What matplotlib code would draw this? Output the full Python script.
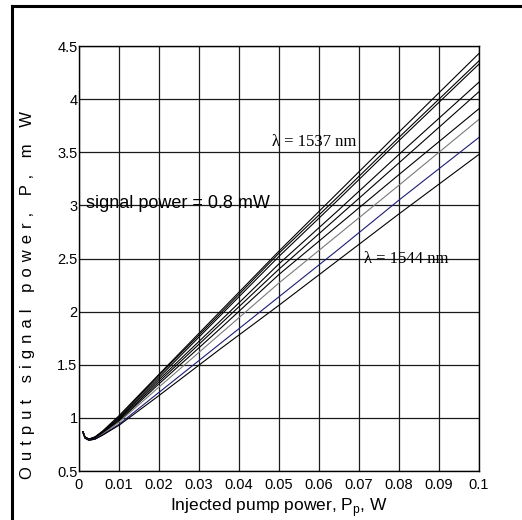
import matplotlib.pyplot as plt
from matplotlib.lines import Line2D

# injected pump power (W) and output signal power (mW) for each signal wavelength
pump_w = [0.001, 0.0015, 0.0025, 0.004, 0.006, 0.01, 0.02, 0.035, 0.05, 0.065, 0.08, 0.1]

p_1537 = [0.87, 0.82, 0.80, 0.82, 0.88, 1.02, 1.41, 1.99, 2.57, 3.13, 3.69, 4.43]
p_1538 = [0.87, 0.82, 0.80, 0.82, 0.87, 1.01, 1.40, 1.97, 2.55, 3.09, 3.64, 4.36]
p_1539 = [0.87, 0.82, 0.80, 0.82, 0.87, 1.00, 1.38, 1.95, 2.52, 3.06, 3.61, 4.33]
p_1540 = [0.87, 0.82, 0.795, 0.81, 0.86, 0.99, 1.36, 1.90, 2.45, 2.96, 3.48, 4.16]
p_1541 = [0.87, 0.82, 0.795, 0.81, 0.86, 0.98, 1.34, 1.87, 2.40, 2.90, 3.40, 4.07]
p_1542 = [0.86, 0.81, 0.79, 0.81, 0.85, 0.97, 1.32, 1.83, 2.35, 2.82, 3.29, 3.91]
p_1543a = [0.86, 0.81, 0.79, 0.80, 0.85, 0.96, 1.29, 1.78, 2.27, 2.73, 3.19, 3.81]
p_1543b = [0.86, 0.81, 0.79, 0.80, 0.84, 0.94, 1.24, 1.69, 2.14, 2.59, 3.05, 3.64]
p_1544 = [0.86, 0.81, 0.79, 0.80, 0.84, 0.93, 1.21, 1.64, 2.06, 2.49, 2.92, 3.48]

curves = [p_1537, p_1538, p_1539, p_1540, p_1541, p_1542, p_1543a, p_1543b, p_1544]
colors = ['k', 'k', 'k', 'k', 'k', 'k', '#7a7a7a', '#1c1c78', 'k']

x_ticks = [0, 0.01, 0.02, 0.03, 0.04, 0.05, 0.06, 0.07, 0.08, 0.09, 0.1]
x_ticklabels = ['0', '0.01', '0.02', '0.03', '0.04', '0.05', '0.06', '0.07', '0.08', '0.09', '0.1']
y_ticks = [0.5, 1, 1.5, 2, 2.5, 3, 3.5, 4, 4.5]
y_ticklabels = ['0.5', '1', '1.5', '2', '2.5', '3', '3.5', '4', '4.5']

narrow = ['Liberation Sans Narrow', 'Liberation Sans', 'DejaVu Sans']
serif = ['Liberation Serif', 'DejaVu Serif']

fig = plt.figure(figsize=(5.22, 5.20), dpi=100)
ax = fig.add_axes([0.1513, 0.0942, 0.7663, 0.8173])

for vals, c in zip(curves, colors):
    ax.plot(pump_w, vals, color=c, lw=0.8)

ax.set_xlim(0, 0.1)
ax.set_ylim(0.5, 4.5)
ax.set_xticks(x_ticks)
ax.set_xticklabels(x_ticklabels, family=narrow, fontsize=10.5)
ax.set_yticks(y_ticks)
ax.set_yticklabels(y_ticklabels, family=narrow, fontsize=10.5)
ax.tick_params(direction='in', length=0, pad=1)
ax.tick_params(axis='x', pad=5)
ax.grid(True, color='#1a1a1a', lw=0.9)
for s in ax.spines.values():
    s.set_color('k')
    s.set_linewidth(1.0)

ax.text(0.0483, 3.56, '\u03bb = 1537 nm', family=serif, fontsize=12, va='baseline')
ax.text(0.0713, 2.46, '\u03bb = 1544 nm', family=serif, fontsize=12, va='baseline')
ax.text(0.00175, 2.98, 'signal power = 0.8 mW', family=narrow, fontsize=13, va='baseline')

fig.text(279 / 522, 1 - 508 / 520, 'Injected pump power, P$_\\mathregular{p}$, W',
         family=narrow, fontsize=12.5, ha='center', va='center')
# letter-spaced y label
fig.text(28 / 522, 1 - 295 / 520, ' \u200a'.join('Output signal power, P, m W'),
         family=narrow, fontsize=12, rotation=90, ha='center', va='center')

# frame around the figure (left and top edges)
fig.add_artist(Line2D([12 / 522, 12 / 522], [0, 1 - 6 / 520], color='k', lw=2.2))
fig.add_artist(Line2D([12 / 522, 1], [1 - 6 / 520, 1 - 6 / 520], color='k', lw=2.2))

fig.savefig('out.png', dpi=100)
